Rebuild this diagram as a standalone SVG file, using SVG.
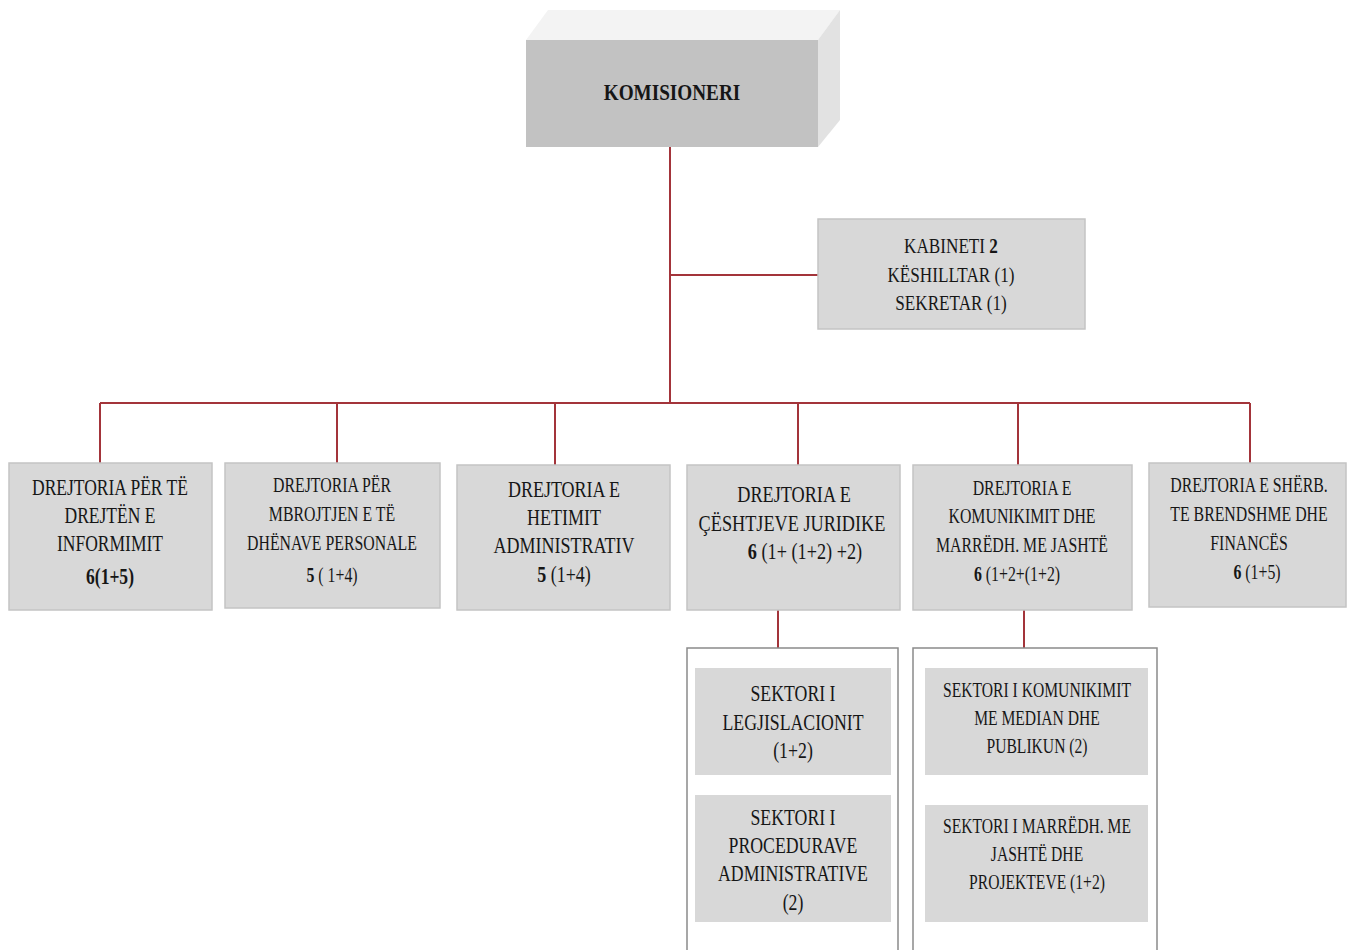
<svg xmlns="http://www.w3.org/2000/svg" width="1351" height="950" viewBox="0 0 1351 950">
<style>
text{font-family:"Liberation Serif","Times New Roman",serif;fill:#161616;text-anchor:middle}
.a{font-size:24px}
.b{font-size:22px}
.bold{font-weight:bold}
.box{fill:#d8d8d8;stroke:#c4c4c4;stroke-width:1.5}
.sub{fill:#d8d8d8;stroke:none}
.cont{fill:#ffffff;stroke:#8a8a8a;stroke-width:1.5}
.ln{stroke:#a3343a;stroke-width:2;fill:none}
</style>
<rect width="1351" height="950" fill="#ffffff"/>
<g id="connectors">
<path class="ln" d="M670 147V403M670 275H818M100 403H1250M100 403V463M337 403V463M555 403V465M798 403V465M1018 403V465M1250 403V463M778 610V648M1024 610V648"/>
</g>
<g id="komisioneri">
<polygon points="526,40 548,10 840,10 818,40" fill="#f3f3f3"/>
<polygon points="818,40 840,10 840,120 818,147" fill="#e2e2e2"/>
<rect x="526" y="40" width="292" height="107" fill="#c2c2c2"/>
<text class="a bold" transform="translate(672,100) scale(0.8,1)">KOMISIONERI</text>
</g>
<g id="kabineti">
<rect class="box" x="818" y="219" width="267" height="110"/>
<text class="b" transform="translate(951,253) scale(0.78,1)">KABINETI <tspan class="bold">2</tspan></text>
<text class="b" transform="translate(951,282) scale(0.78,1)">KËSHILLTAR (1)</text>
<text class="b" transform="translate(951,310) scale(0.78,1)">SEKRETAR (1)</text>
</g>
<g id="d1">
<rect class="box" x="9" y="463" width="203" height="147"/>
<text class="a" transform="translate(110,495) scale(0.73,1)">DREJTORIA PËR TË</text>
<text class="a" transform="translate(110,523) scale(0.73,1)">DREJTËN E</text>
<text class="a" transform="translate(110,551) scale(0.73,1)">INFORMIMIT</text>
<text class="a bold" transform="translate(110,584) scale(0.73,1)">6(1+5)</text>
</g>
<g id="d2">
<rect class="box" x="225" y="463" width="215" height="145"/>
<text class="b" transform="translate(332,492) scale(0.72,1)">DREJTORIA PËR</text>
<text class="b" transform="translate(332,521) scale(0.72,1)">MBROJTJEN E TË</text>
<text class="b" transform="translate(332,550) scale(0.72,1)">DHËNAVE PERSONALE</text>
<text class="b" transform="translate(332,582) scale(0.72,1)"><tspan class="bold">5</tspan> ( 1+4)</text>
</g>
<g id="d3">
<rect class="box" x="457" y="465" width="213" height="145"/>
<text class="a" transform="translate(564,497) scale(0.75,1)">DREJTORIA E</text>
<text class="a" transform="translate(564,525) scale(0.75,1)">HETIMIT</text>
<text class="a" transform="translate(564,553) scale(0.75,1)">ADMINISTRATIV</text>
<text class="a" transform="translate(564,582) scale(0.75,1)"><tspan class="bold">5</tspan> (1+4)</text>
</g>
<g id="d4">
<rect class="box" x="687" y="465" width="213" height="145"/>
<text class="a" transform="translate(794,502) scale(0.76,1)">DREJTORIA E</text>
<text class="a" transform="translate(792,531) scale(0.76,1)">ÇËSHTJEVE JURIDIKE</text>
<text class="a" transform="translate(805,559) scale(0.76,1)"><tspan class="bold">6</tspan> (1+ (1+2) +2)</text>
</g>
<g id="d5">
<rect class="box" x="913" y="465" width="219" height="145"/>
<text class="b" transform="translate(1022,495) scale(0.72,1)">DREJTORIA E</text>
<text class="b" transform="translate(1022,523) scale(0.72,1)">KOMUNIKIMIT DHE</text>
<text class="b" transform="translate(1022,552) scale(0.72,1)">MARRËDH. ME JASHTË</text>
<text class="b" transform="translate(1017,581) scale(0.72,1)"><tspan class="bold">6</tspan>  (1+2+(1+2)</text>
</g>
<g id="d6">
<rect class="box" x="1149" y="463" width="197" height="144"/>
<text class="b" transform="translate(1249,492) scale(0.72,1)">DREJTORIA E SHËRB.</text>
<text class="b" transform="translate(1249,521) scale(0.72,1)">TE BRENDSHME DHE</text>
<text class="b" transform="translate(1249,550) scale(0.72,1)">FINANCËS</text>
<text class="b" transform="translate(1257,579) scale(0.72,1)"><tspan class="bold">6</tspan> (1+5)</text>
</g>
<g id="c4">
<rect class="cont" x="687" y="648" width="211" height="310"/>
</g>
<g id="s1">
<rect class="sub" x="695" y="668" width="196" height="107"/>
<text class="a" transform="translate(793,701) scale(0.74,1)">SEKTORI I</text>
<text class="a" transform="translate(793,730) scale(0.74,1)">LEGJISLACIONIT</text>
<text class="a" transform="translate(793,758) scale(0.74,1)">(1+2)</text>
</g>
<g id="s2">
<rect class="sub" x="695" y="795" width="196" height="127"/>
<text class="a" transform="translate(793,825) scale(0.74,1)">SEKTORI I</text>
<text class="a" transform="translate(793,853) scale(0.74,1)">PROCEDURAVE</text>
<text class="a" transform="translate(793,881) scale(0.74,1)">ADMINISTRATIVE</text>
<text class="a" transform="translate(793,910) scale(0.74,1)">(2)</text>
</g>
<g id="c5">
<rect class="cont" x="913" y="648" width="244" height="310"/>
</g>
<g id="s3">
<rect class="sub" x="925" y="668" width="223" height="107"/>
<text class="b" transform="translate(1037,697) scale(0.71,1)">SEKTORI I KOMUNIKIMIT</text>
<text class="b" transform="translate(1037,725) scale(0.71,1)">ME MEDIAN DHE</text>
<text class="b" transform="translate(1037,753) scale(0.71,1)">PUBLIKUN (2)</text>
</g>
<g id="s4">
<rect class="sub" x="925" y="805" width="223" height="117"/>
<text class="b" transform="translate(1037,833) scale(0.71,1)">SEKTORI I MARRËDH. ME</text>
<text class="b" transform="translate(1037,861) scale(0.71,1)">JASHTË DHE</text>
<text class="b" transform="translate(1037,889) scale(0.71,1)">PROJEKTEVE (1+2)</text>
</g>
</svg>
